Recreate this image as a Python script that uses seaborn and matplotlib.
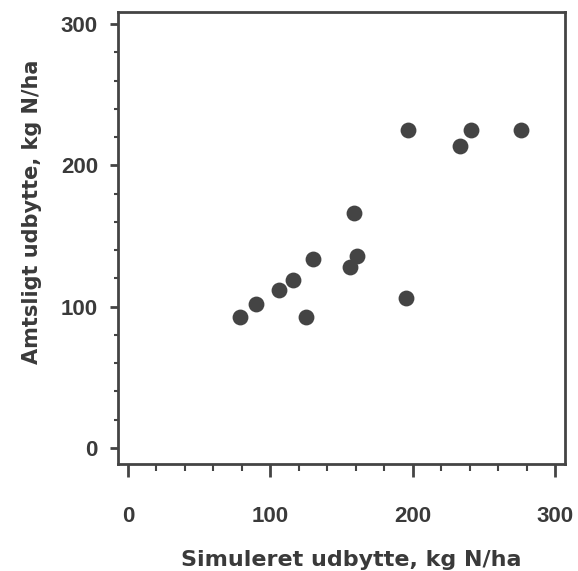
import numpy as np
import pandas as pd
import seaborn as sns
import matplotlib.pyplot as plt
from matplotlib.ticker import MultipleLocator

# simulated vs. observed yield, kg N/ha
simuleret = [79, 90, 106, 116, 130, 125, 156, 161, 159, 195, 197, 233, 241, 276]
amtsligt = [93, 102, 112, 119, 134, 93, 128, 136, 166, 106, 225, 214, 225, 225]

df = pd.DataFrame({'sim': simuleret, 'amt': amtsligt})

sns.set_style('ticks')
plt.rcParams['font.family'] = ['Liberation Sans', 'DejaVu Sans']
plt.rcParams['font.weight'] = 'bold'

fig = plt.figure(figsize=(5.78, 5.71), dpi=100)
ax = fig.add_axes([0.2042, 0.1874, 0.7734, 0.7916])

sns.scatterplot(data=df, x='sim', y='amt', ax=ax, s=130, color='#444444',
                edgecolor='#444444', linewidth=0)

ax.set_xlim(-7, 307)
ax.set_ylim(-11.3, 308.5)
ax.xaxis.set_major_locator(MultipleLocator(100))
ax.xaxis.set_minor_locator(MultipleLocator(20))
ax.yaxis.set_major_locator(MultipleLocator(100))
ax.yaxis.set_minor_locator(MultipleLocator(20))

for side in ax.spines.values():
    side.set_linewidth(2)
    side.set_color('#444444')

ax.tick_params(which='both', color='#444444', labelsize=16, labelcolor='#3a3a3a')
ax.tick_params(axis='x', which='major', length=9.5, width=2, pad=21)
ax.tick_params(axis='x', which='minor', length=5, width=1.5)
ax.tick_params(axis='y', which='major', length=6, width=2, pad=8.5)
ax.tick_params(axis='y', which='minor', length=3, width=1.5)

lab_font = dict(family='DejaVu Sans', fontweight='bold', color='#3a3a3a')
ax.set_xlabel('Simuleret udbytte, kg N/ha', fontsize=16, **lab_font)
ax.set_ylabel('Amtsligt udbytte, kg N/ha', fontsize=15, **lab_font)
ax.xaxis.set_label_coords(0.521, -0.19)
ax.yaxis.set_label_coords(-0.17, 0.557)

fig.savefig('out.png', dpi=100)
